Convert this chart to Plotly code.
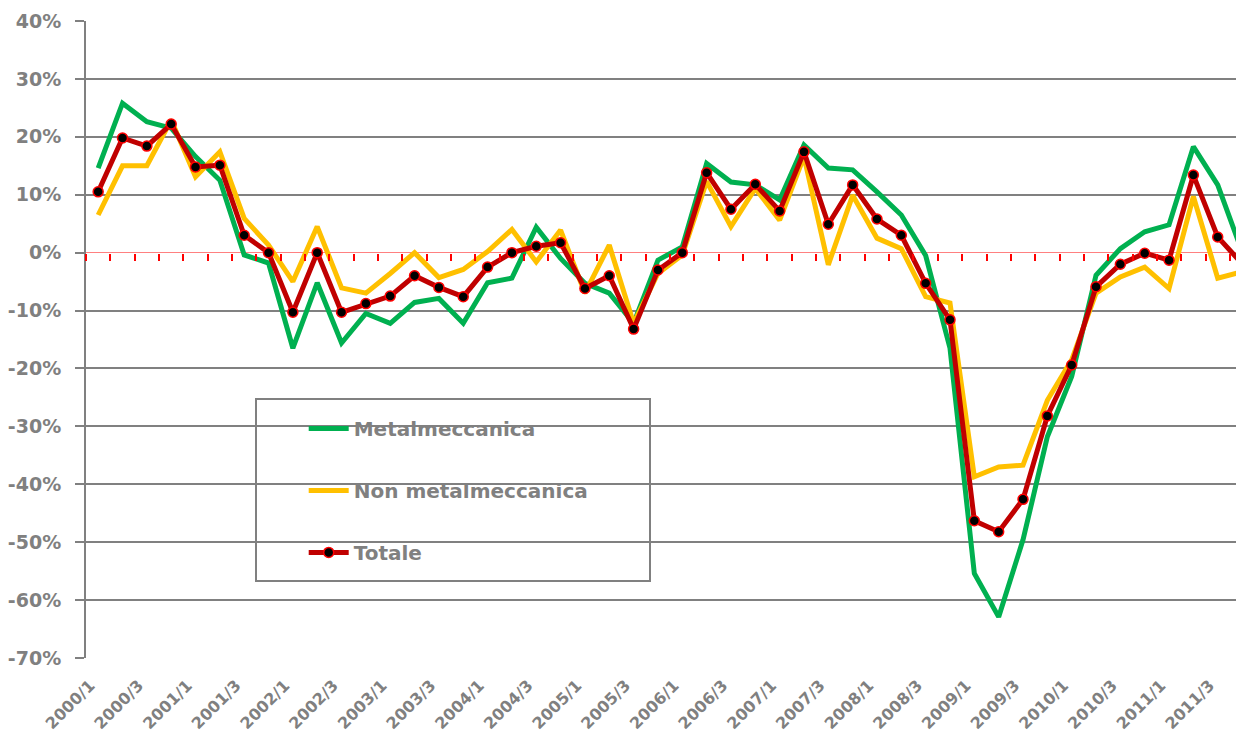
import plotly.graph_objects as go

# quarters 2000/1 .. 2011/4
years = list(range(2000, 2012))
quarters = [f"{y}/{q}" for y in years for q in range(1, 5)]
tick_labels = quarters[::2]
y_ticks = list(range(-70, 50, 10))
y_labels = [f"{v}%" for v in y_ticks]

metalmeccanica = [14.6, 25.8, 22.6, 21.5, 16.6, 12.5, -0.4, -1.8, -16.5, -5.2, -15.6, -10.5,
                  -12.2, -8.6, -7.9, -12.2, -5.2, -4.4, 4.4, -1.0, -5.3, -7.0, -12.2, -1.3,
                  1.0, 15.4, 12.2, 11.7, 9.1, 18.6, 14.6, 14.3, 10.5, 6.5, -0.5, -16.5,
                  -55.4, -62.9, -49.6, -31.8, -21.4, -3.9, 0.7, 3.6, 4.8, 18.3, 11.7, 0.2]
non_metalmeccanica = [6.5, 15.0, 15.0, 22.9, 13.1, 17.4, 5.9, 1.3, -5.0, 4.5, -6.1, -7.0,
                      -3.6, 0.0, -4.3, -2.9, 0.2, 4.0, -1.6, 3.9, -7.0, 1.3, -12.2, -3.6,
                      -0.4, 12.3, 4.5, 11.1, 5.6, 16.6, -2.1, 9.9, 2.5, 0.7, -7.6, -8.7,
                      -38.7, -37.0, -36.7, -25.5, -18.5, -7.0, -4.2, -2.5, -6.2, 9.7, -4.4, -3.3]
totale = [10.5, 19.8, 18.4, 22.2, 14.8, 15.1, 3.0, 0.0, -10.3, 0.0, -10.3, -8.8,
          -7.5, -4.0, -6.0, -7.6, -2.5, 0.0, 1.1, 1.7, -6.2, -4.0, -13.2, -3.0,
          0.0, 13.8, 7.5, 11.8, 7.2, 17.4, 4.9, 11.7, 5.8, 3.0, -5.3, -11.6,
          -46.3, -48.2, -42.6, -28.2, -19.4, -5.9, -2.0, -0.1, -1.3, 13.4, 2.7, -1.9]

GREY = "#808080"
FONT = "DejaVu Sans"
xrange = [-0.5, 47.08]

fig = go.Figure()
fig.add_trace(go.Scatter(x=quarters, y=metalmeccanica, name="Metalmeccanica", mode="lines",
                         line=dict(color="#00B050", width=5), legendgroup="a", cliponaxis=False))
fig.add_trace(go.Scatter(x=quarters, y=non_metalmeccanica, name="Non metalmeccanica", mode="lines",
                         line=dict(color="#FFC000", width=5), legendgroup="b", cliponaxis=False))
fig.add_trace(go.Scatter(x=quarters, y=totale, name="Totale", mode="lines+markers",
                         line=dict(color="#C00000", width=5),
                         marker=dict(color="black", size=10, line=dict(color="#FF0000", width=1.5)),
                         legendgroup="c", cliponaxis=False))
# empty trace so the red category axis at 0 gets drawn
fig.add_trace(go.Scatter(x=[], y=[], xaxis="x2", showlegend=False, hoverinfo="skip"))

# page body has an 8px margin, so the figure is a bit smaller than the window
fig.update_layout(
    width=1236, height=734,
    margin=dict(l=78, r=0, t=13, b=84),
    paper_bgcolor="white", plot_bgcolor="white",
    font=dict(family=FONT, color=GREY, weight="bold"),
    showlegend=True,
    legend=dict(x=0.188, y=0.391, xanchor="left", yanchor="top",
                bgcolor="rgba(0,0,0,0)", font=dict(size=20, color=GREY, family=FONT, weight="bold"),
                tracegroupgap=33, itemwidth=40),
    xaxis=dict(range=xrange, tickmode="array", tickvals=tick_labels, ticktext=tick_labels,
               tickangle=-45, tickfont=dict(size=16, color=GREY, family=FONT, weight="bold"),
               ticklabelstandoff=14, ticklabelshift=-8,
               showgrid=False, showline=False, ticks="", zeroline=False, automargin=False),
    xaxis2=dict(overlaying="x", anchor="free", position=70 / 110, side="bottom",
                range=xrange, tickmode="array", tickvals=[i - 0.5 for i in range(49)],
                showticklabels=False, ticks="outside", ticklen=7, tickwidth=2,
                tickcolor="#FF0000", showgrid=False, showline=False, zeroline=False,
                automargin=False),
    yaxis=dict(range=[-70, 40], tickmode="array", tickvals=y_ticks, ticktext=y_labels,
               showgrid=True, gridcolor=GREY,
               gridwidth=2, showline=True, linecolor=GREY, linewidth=2,
               ticks="outside", ticklen=9, tickwidth=2, tickcolor=GREY, ticklabelstandoff=10,
               zeroline=True, zerolinecolor="#FF8080", zerolinewidth=1, automargin=False,
               tickfont=dict(size=19, color=GREY, family=FONT, weight="bold")),
    shapes=[dict(type="rect", xref="paper", yref="paper",
                 x0=(256 - 86) / 1158, x1=(650 - 86) / 1158,
                 y0=1 - (581 - 21) / 637, y1=1 - (399 - 21) / 637,
                 line=dict(color=GREY, width=2), fillcolor="rgba(0,0,0,0)")],
)

fig.write_html("out.html")
